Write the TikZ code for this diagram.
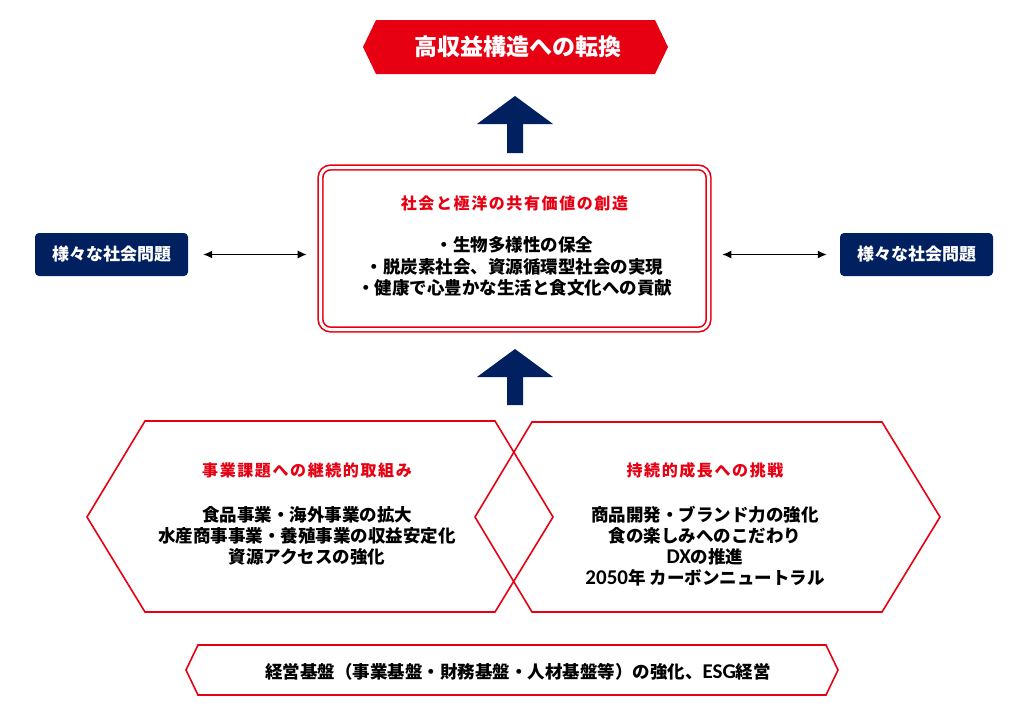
\documentclass[tikz,border=0pt]{standalone}
\usepackage{fontspec}
\setmainfont{Noto Sans CJK JP}
\newfontfamily\latin{Carlito}[Scale=1.2]
\usetikzlibrary{arrows.meta,calc}
\definecolor{kred}{HTML}{E60012}
\definecolor{knavy}{HTML}{002060}

\begin{document}
\begin{tikzpicture}[x=1pt,y=-1pt,
  every node/.style={inner sep=0pt},
  body/.style={font=\bfseries\fontsize{17.5}{21}\selectfont, align=center},
  heading/.style={font=\bfseries\fontsize{16}{19}\selectfont\addfontfeature{LetterSpace=10}, text=kred},
  probbox/.style={fill=knavy, rounded corners=4pt, minimum width=153pt, minimum height=43pt,
    text=white, font=\bfseries\fontsize{17}{20}\selectfont},
  hexline/.style={draw=kred, line width=1.6pt},
  bigarrow/.style={fill=knavy},
  link/.style={arrows={Latex[length=9pt,width=8pt]-Latex[length=9pt,width=8pt]}, line width=1.3pt}]
  \useasboundingbox (0,0) rectangle (1035,720);

  % goal banner
  \fill [kred] (363,47) -- (376,20) -- (655,20) -- (668,47) -- (655,74) -- (376,74) -- cycle;
  \node [text=white, font=\bfseries\fontsize{23}{26}\selectfont] (goal) at (518,47) {高収益構造への転換};

  % big arrows
  \fill [bigarrow] (515,96) -- (553,124) -- (523,124) -- (523,153) -- (507,153) -- (507,124) -- (477,124) -- cycle;
  \fill [bigarrow] (515,349) -- (553,377) -- (523,377) -- (523,405) -- (507,405) -- (507,377) -- (477,377) -- cycle;

  % shared value box
  \node [draw=kred, double=white, double distance=3pt, line width=1.6pt, rounded corners=10pt,
    minimum width=388pt, minimum height=162pt] (core) at (514.5,248.5) {};
  \node [heading] (coretitle) at (514.5,203) {社会と極洋の共有価値の創造};
  \node [body, font=\bfseries\fontsize{17.5}{21.5}\selectfont] (corelist) at (514.5,266.5)
    {・生物多様性の保全\\・脱炭素社会、資源循環型社会の実現\\・健康で心豊かな生活と食文化への貢献};

  % social issues
  \node [probbox] (lprob) at (111.5,254.5) {様々な社会問題};
  \node [probbox] (rprob) at (916.5,254.5) {様々な社会問題};
  \draw [link] ([xshift=15pt]lprob.east) -- ($(core.west |- lprob.east)+(-13,0)$);
  \draw [link] ($(core.east |- rprob.west)+(13,0)$) -- ([xshift=-13pt]rprob.west);

  % two hexagons
  \draw [hexline] (87,517) -- (145,421) -- (495,421) -- (553,517) -- (495,612) -- (145,612) -- cycle;
  \draw [hexline] (475,517) -- (532,422) -- (882,422) -- (940,517) -- (882,612) -- (532,612) -- cycle;
  \node [heading] (bizhead) at (307,470) {事業課題への継続的取組み};
  \node [body] (bizlist) at (307,536)
    {食品事業・海外事業の拡大\\水産商事事業・養殖事業の収益安定化\\資源アクセスの強化};
  \node [heading] (growhead) at (705,470) {持続的成長への挑戦};
  \node [body] (growlist) at (705,546)
    {商品開発・ブランド力の強化\\食の楽しみへのこだわり\\{\latin DX}の推進\\{\latin 2050}年 カーボンニュートラル};

  % foundation
  \draw [hexline] (186,670) -- (198,645) -- (826,645) -- (838,670) -- (826,695) -- (198,695) -- cycle;
  \node [body] (base) at (518,672) {経営基盤（事業基盤・財務基盤・人材基盤等）の強化、{\latin ESG}経営};
\end{tikzpicture}
\end{document}
